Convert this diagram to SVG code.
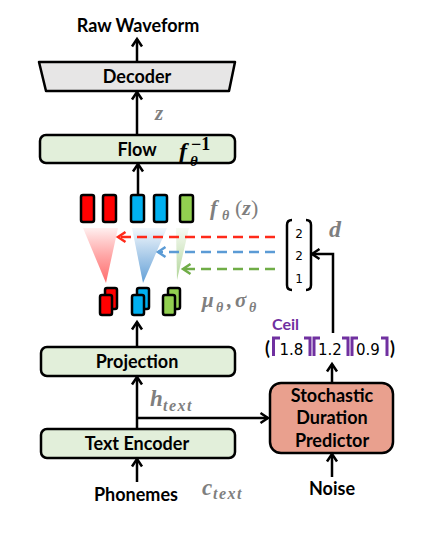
<svg xmlns="http://www.w3.org/2000/svg" width="422" height="539" viewBox="0 0 422 539">
<style>
.box{fill:#e2efda;stroke:#000;stroke-width:2.5}
.lbl{font-family:Lato,"Open Sans",sans-serif;font-weight:bold;font-size:18px;fill:#000;text-anchor:middle}
.math{font-family:"Liberation Serif",serif;font-weight:bold;font-style:italic;fill:#7f7f7f}
.sub{font-family:"Liberation Serif",serif;font-weight:bold;font-style:italic;fill:#7f7f7f;font-size:16px;letter-spacing:1.5px}
.ln{fill:none;stroke:#000;stroke-width:2.5}
.tok{stroke:#000;stroke-width:2.5}
.num{font-family:"DejaVu Sans",sans-serif;fill:#000}
.ceil{fill:none;stroke:#7030a0;stroke-width:3}
</style>
<defs>
<marker id="ah" viewBox="0 0 10 12" refX="8.5" refY="6" markerWidth="10" markerHeight="12" markerUnits="userSpaceOnUse" orient="auto" overflow="visible"><path d="M1,1 L8.5,6 L1,11" fill="none" stroke="#000" stroke-width="2.5"/></marker>
<marker id="ahr" viewBox="0 0 10 12" refX="8.5" refY="6" markerWidth="10" markerHeight="12" markerUnits="userSpaceOnUse" orient="auto" overflow="visible"><path d="M1,1 L8.5,6 L1,11" fill="none" stroke="#ff2a1a" stroke-width="2.5"/></marker>
<marker id="ahb" viewBox="0 0 10 12" refX="8.5" refY="6" markerWidth="10" markerHeight="12" markerUnits="userSpaceOnUse" orient="auto" overflow="visible"><path d="M1,1 L8.5,6 L1,11" fill="none" stroke="#5b9bd5" stroke-width="2.5"/></marker>
<marker id="ahg" viewBox="0 0 10 12" refX="8.5" refY="6" markerWidth="10" markerHeight="12" markerUnits="userSpaceOnUse" orient="auto" overflow="visible"><path d="M1,1 L8.5,6 L1,11" fill="none" stroke="#70ad47" stroke-width="2.5"/></marker>
<linearGradient id="gr" x1="0" y1="0" x2="0" y2="1"><stop offset="0" stop-color="#ff0000" stop-opacity="0.06"/><stop offset="1" stop-color="#ff3030" stop-opacity="0.7"/></linearGradient>
<linearGradient id="gb" x1="0" y1="0" x2="0" y2="1"><stop offset="0" stop-color="#5b9bd5" stop-opacity="0.08"/><stop offset="1" stop-color="#5b9bd5" stop-opacity="0.95"/></linearGradient>
<linearGradient id="gg" x1="0" y1="0" x2="0" y2="1"><stop offset="0" stop-color="#a9d18e" stop-opacity="0.1"/><stop offset="1" stop-color="#a9d18e" stop-opacity="0.9"/></linearGradient>
</defs>

<g id="raw-waveform"><text class="lbl" x="138" y="32">Raw Waveform</text></g>

<g id="decoder">
<polygon points="39,62 235,62 229,91 46,91" fill="#e7e6e6" stroke="#000" stroke-width="2.5" stroke-linejoin="round"/>
<text class="lbl" x="137" y="83">Decoder</text>
</g>

<g id="z-label"><text class="math" x="155" y="120" font-size="21">z</text></g>

<g id="flow">
<rect class="box" x="40" y="135" width="195" height="28" rx="6"/>
<text class="lbl" x="137" y="156">Flow</text>
<text font-family="Liberation Serif,serif" font-weight="bold" font-style="italic" font-size="24" x="179" y="159">f</text>
<text font-family="Liberation Serif,serif" font-weight="bold" font-style="italic" font-size="15" x="190" y="166">θ</text>
<text font-family="Liberation Serif,serif" font-weight="bold" font-size="18" x="191" y="150">−1</text>
</g>

<g id="f-tokens">
<rect class="tok" x="81" y="195" width="13" height="27" rx="2" fill="#ff0000"/>
<rect class="tok" x="103" y="195" width="13" height="27" rx="2" fill="#ff0000"/>
<rect class="tok" x="131" y="195" width="13" height="27" rx="2" fill="#00b0f0"/>
<rect class="tok" x="154" y="195" width="13" height="27" rx="2" fill="#00b0f0"/>
<rect class="tok" x="180" y="195" width="13" height="27" rx="2" fill="#92d050"/>
</g>
<g id="f-label">
<text class="math" x="210" y="215" font-size="22">f</text>
<text class="math" x="222" y="220" font-size="14">θ</text>
<text font-family="Liberation Serif,serif" font-size="22" fill="#7f7f7f" x="235" y="215">(<tspan font-weight="bold" font-style="italic">z</tspan>)</text>
</g>

<g id="fans">
<polygon points="83,228 118,228 106,283" fill="url(#gr)"/>
<polygon points="132,228 167,228 143,283" fill="url(#gb)"/>
<polygon points="176,228 189,228 177,280" fill="url(#gg)"/>
</g>

<g id="prior-tokens">
<rect class="tok" x="105" y="288" width="12" height="21" rx="2" fill="#ff0000"/>
<rect class="tok" x="100" y="295" width="12" height="20" rx="2" fill="#ff0000"/>
<rect class="tok" x="137" y="288" width="12" height="21" rx="2" fill="#00b0f0"/>
<rect class="tok" x="132" y="295" width="12" height="20" rx="2" fill="#00b0f0"/>
<rect class="tok" x="168" y="288" width="12" height="21" rx="2" fill="#92d050"/>
<rect class="tok" x="163" y="295" width="12" height="20" rx="2" fill="#92d050"/>
</g>
<g id="mu-sigma-label">
<text class="math" x="202" y="307" font-size="21">μ</text>
<text class="math" x="216" y="312" font-size="14">θ</text>
<text class="math" x="227" y="307" font-size="21">,</text>
<text class="math" x="235" y="307" font-size="21">σ</text>
<text class="math" x="249" y="312" font-size="14">θ</text>
</g>

<g id="duration-vector">
<path class="ln" d="M292,220 Q287,220 287,225 L287,285 Q287,290 292,290"/>
<path class="ln" d="M306,220 Q311,220 311,225 L311,285 Q311,290 306,290"/>
<text class="num" x="299" y="238" font-size="12" text-anchor="middle">2</text>
<text class="num" x="299" y="260" font-size="12" text-anchor="middle">2</text>
<text class="num" x="299" y="283" font-size="12" text-anchor="middle">1</text>
</g>
<g id="d-label"><text class="math" x="329" y="237" font-size="24">d</text></g>

<g id="ceil-row">
<text font-family="Lato,sans-serif" font-weight="bold" font-size="16" fill="#7030a0" x="272" y="330">Ceil</text>
<text font-family="Lato,sans-serif" font-weight="bold" font-size="18" x="265" y="355">(</text>
<text font-family="Lato,sans-serif" font-weight="bold" font-size="18" x="390" y="355">)</text>
<path class="ceil" d="M273.5,356 V338 H280"/>
<path class="ceil" d="M304,338 H310 V356"/>
<path class="ceil" d="M314,356 V338 H320"/>
<path class="ceil" d="M342,338 H348 V356"/>
<path class="ceil" d="M352,356 V338 H358"/>
<path class="ceil" d="M381,338 H387 V356"/>
<text class="num" x="279.5" y="355" font-size="15">1.8</text>
<text class="num" x="318" y="355" font-size="15">1.2</text>
<text class="num" x="356" y="355" font-size="15">0.9</text>
</g>

<g id="projection">
<rect class="box" x="41" y="347" width="194" height="29" rx="6"/>
<text class="lbl" x="137" y="368">Projection</text>
</g>

<g id="h-text-label">
<text class="math" x="150" y="406" font-size="23">h</text>
<text class="sub" x="163" y="411">text</text>
</g>

<g id="text-encoder">
<rect class="box" x="41" y="429" width="194" height="29" rx="6"/>
<text class="lbl" x="137" y="450">Text Encoder</text>
</g>

<g id="sdp">
<rect x="270" y="383" width="123" height="70" rx="11" fill="#e9a08e" stroke="#000" stroke-width="2.5"/>
<text class="lbl" x="332" y="402">Stochastic</text>
<text class="lbl" x="332" y="424">Duration</text>
<text class="lbl" x="332" y="447">Predictor</text>
</g>

<g id="phonemes"><text class="lbl" x="136" y="501">Phonemes</text></g>
<g id="c-text-label">
<text class="math" x="202" y="495" font-size="23">c</text>
<text class="sub" x="213" y="499">text</text>
</g>
<g id="noise"><text class="lbl" x="332" y="495">Noise</text></g>

<g id="connectors">
<path class="ln" d="M137,62 V39" marker-end="url(#ah)"/>
<path class="ln" d="M137,135 V92" marker-end="url(#ah)"/>
<path class="ln" d="M138,195 V164" marker-end="url(#ah)"/>
<path class="ln" d="M137,347 V322" marker-end="url(#ah)"/>
<path class="ln" d="M137,429 V377" marker-end="url(#ah)"/>
<path class="ln" d="M137,418 H268" marker-end="url(#ah)"/>
<path class="ln" d="M137,482 V459" marker-end="url(#ah)"/>
<path class="ln" d="M332,477 V454" marker-end="url(#ah)"/>
<path class="ln" d="M332,383 V364" marker-end="url(#ah)"/>
<path class="ln" d="M333,333 V254 H312" marker-end="url(#ah)"/>
<path d="M275,237 H118" fill="none" stroke="#ff2a1a" stroke-width="2.5" stroke-dasharray="10,6" marker-end="url(#ahr)"/>
<path d="M275,252 H158" fill="none" stroke="#5b9bd5" stroke-width="2.5" stroke-dasharray="10,6" marker-end="url(#ahb)"/>
<path d="M275,269 H183" fill="none" stroke="#70ad47" stroke-width="2.5" stroke-dasharray="10,6" marker-end="url(#ahg)"/>
</g>
</svg>
